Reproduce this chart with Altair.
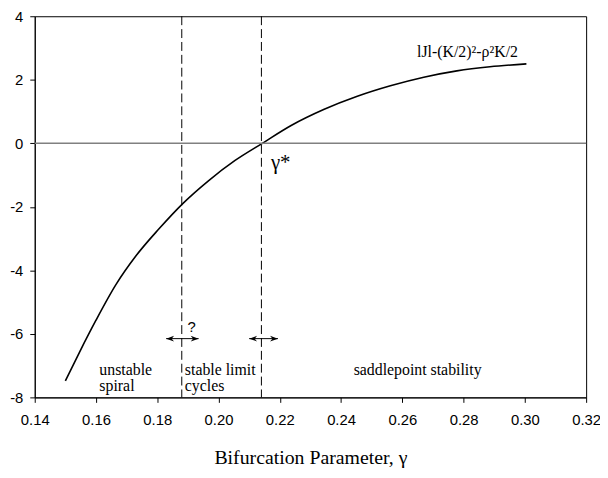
import altair as alt
import pandas as pd

# curve values
gamma = [0.150, 0.1546, 0.160, 0.1665, 0.173, 0.1805, 0.1884, 0.1967, 0.2054, 0.2143,
         0.2237, 0.2345, 0.2453, 0.2561, 0.2670, 0.2778, 0.2886, 0.3005]
value = [-7.48, -6.58, -5.57, -4.45, -3.55, -2.70, -1.89, -1.18, -0.54, 0.0,
         0.56, 1.07, 1.48, 1.81, 2.08, 2.28, 2.41, 2.50]

boundaries = [0.188, 0.214]
arrow_x0 = [0.1829, 0.2100]
arrow_x1 = [0.1935, 0.2194]
arrow_y = [-6.15, -6.15]

region_text = ["unstable", "spiral", "stable limit", "cycles", "saddlepoint stability"]
region_x = [0.1611, 0.1611, 0.1890, 0.1890, 0.2441]
region_y = [-7.28, -7.80, -7.28, -7.80, -7.28]

x_ticks = [0.14, 0.16, 0.18, 0.20, 0.22, 0.24, 0.26, 0.28, 0.30, 0.32]
y_ticks = [-8, -6, -4, -2, 0, 2, 4]

SERIF = "Liberation Serif"
SANS = "Liberation Sans"

xs = alt.Scale(domain=[0.14, 0.32], nice=False, zero=False)
ys = alt.Scale(domain=[-8, 4], nice=False, zero=False)

curve_df = pd.DataFrame({"g": gamma, "v": value})

base_x = alt.X("g:Q", scale=xs,
               axis=alt.Axis(values=x_ticks, format=".2f", title="Bifurcation Parameter, γ",
                             grid=False, domainColor="black", tickColor="black",
                             tickSize=5, labelPadding=10, labelFont=SANS, labelFontSize=15,
                             labelColor="black", labelFlush=False, labelOverlap=False,
                             titleFont=SERIF, titleFontSize=20,
                             titleFontWeight="normal", titleColor="black", titlePadding=21))
base_y = alt.Y("v:Q", scale=ys,
               axis=alt.Axis(values=y_ticks, title=None, grid=False, domainColor="black",
                             tickColor="black", tickSize=5, labelPadding=7, labelFont=SANS,
                             labelFontSize=15, labelColor="black", labelFlush=False,
                             labelOverlap=False,
                             labelExpr="replace(datum.label, '\u2212', '-')"))

zero = alt.Chart(pd.DataFrame({"v": [0]})).mark_rule(color="#808080", strokeWidth=1.5).encode(
    y=alt.Y("v:Q", scale=ys))

dashed = alt.Chart(pd.DataFrame({"g": boundaries})).mark_rule(
    color="black", strokeWidth=1, strokeDash=[9, 4]).encode(x=alt.X("g:Q", scale=xs))

curve = alt.Chart(curve_df).mark_line(color="black", strokeWidth=1.6,
                                      interpolate="monotone").encode(x=base_x, y=base_y)

arrow_df = pd.DataFrame({"x0": arrow_x0, "x1": arrow_x1, "y": arrow_y})
arrow_line = alt.Chart(arrow_df).mark_rule(color="black", strokeWidth=1).encode(
    x=alt.X("x0:Q", scale=xs), x2="x1:Q", y=alt.Y("y:Q", scale=ys))
head_r = alt.Chart(arrow_df).mark_point(
    shape="M0,0L-2,-0.7L-1.4,0L-2,0.7Z", filled=True, color="black", size=64, opacity=1
).encode(x=alt.X("x1:Q", scale=xs), y=alt.Y("y:Q", scale=ys))
head_l = alt.Chart(arrow_df).mark_point(
    shape="M0,0L2,-0.7L1.4,0L2,0.7Z", filled=True, color="black", size=64, opacity=1
).encode(x=alt.X("x0:Q", scale=xs), y=alt.Y("y:Q", scale=ys))

region_df = pd.DataFrame({"t": region_text, "g": region_x, "v": region_y})
regions = alt.Chart(region_df).mark_text(
    align="left", baseline="alphabetic", font=SERIF, fontSize=16, color="black"
).encode(x=alt.X("g:Q", scale=xs), y=alt.Y("v:Q", scale=ys), text="t:N")

q_df = pd.DataFrame({"t": ["?"], "g": [0.1912], "v": [-5.93]})
qmark = alt.Chart(q_df).mark_text(
    align="center", baseline="alphabetic", font=SANS, fontSize=15, color="black"
).encode(x=alt.X("g:Q", scale=xs), y=alt.Y("v:Q", scale=ys), text="t:N")

gs_df = pd.DataFrame({"t": ["γ*"], "g": [0.2171], "v": [-0.82]})
gstar = alt.Chart(gs_df).mark_text(
    align="left", baseline="alphabetic", font=SERIF, fontSize=21, color="black"
).encode(x=alt.X("g:Q", scale=xs), y=alt.Y("v:Q", scale=ys), text="t:N")

lab_df = pd.DataFrame({"t": ["lJl-(K/2)²-ρ²K/2"], "g": [0.2648], "v": [2.73]})
curve_label = alt.Chart(lab_df).mark_text(
    align="left", baseline="alphabetic", font=SERIF, fontSize=16, color="black"
).encode(x=alt.X("g:Q", scale=xs), y=alt.Y("v:Q", scale=ys), text="t:N")

chart = alt.layer(curve, zero, dashed, arrow_line, head_r, head_l, regions, qmark, gstar,
                  curve_label).properties(
    width=557, height=385,
    autosize=alt.AutoSizeParams(type="none"),
    padding={"left": 27, "top": 6, "right": 14, "bottom": 70},
    background="white",
).configure_view(stroke="black", strokeWidth=1)

chart.save("out.html", embed_options={"renderer": "svg", "actions": False})
